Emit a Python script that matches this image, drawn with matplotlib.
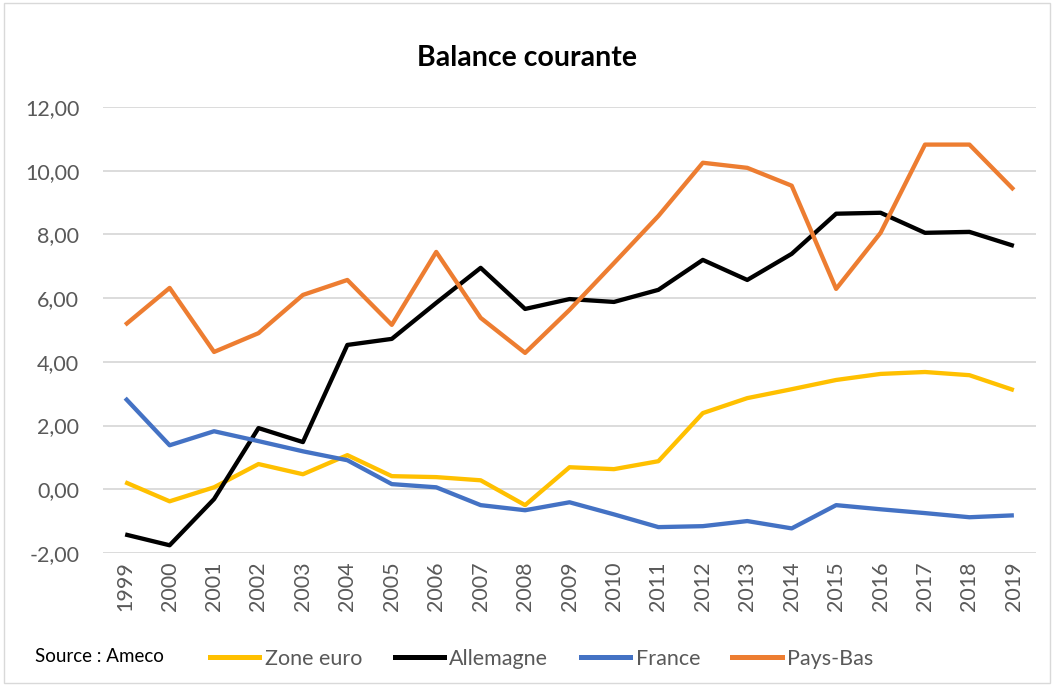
import matplotlib
matplotlib.use("Agg")
import matplotlib.pyplot as plt
from matplotlib.patches import Rectangle
from matplotlib.lines import Line2D
import numpy as np

years = [str(y) for y in range(1999, 2020)]
zone_euro = [0.22, -0.38, 0.06, 0.79, 0.47, 1.07, 0.41, 0.38, 0.28, -0.50, 0.69,
             0.63, 0.88, 2.39, 2.86, 3.14, 3.43, 3.62, 3.68, 3.58, 3.11]
allemagne = [-1.42, -1.76, -0.31, 1.92, 1.48, 4.53, 4.72, 5.85, 6.95, 5.66, 5.97,
             5.88, 6.26, 7.20, 6.57, 7.39, 8.65, 8.68, 8.05, 8.08, 7.64]
france = [2.86, 1.38, 1.82, 1.51, 1.19, 0.91, 0.16, 0.06, -0.50, -0.66, -0.41,
          -0.79, -1.19, -1.16, -1.00, -1.23, -0.50, -0.63, -0.75, -0.88, -0.82]
pays_bas = [5.16, 6.32, 4.31, 4.90, 6.10, 6.57, 5.16, 7.45, 5.38, 4.28, 5.63,
            7.10, 8.58, 10.25, 10.09, 9.53, 6.29, 8.05, 10.82, 10.82, 9.40]

series = [("Zone euro", zone_euro, "#FFC000"),
          ("Allemagne", allemagne, "#000000"),
          ("France", france, "#4472C4"),
          ("Pays-Bas", pays_bas, "#ED7D31")]

plt.rcParams['font.family'] = ['Lato', 'DejaVu Sans']
grey = "#595959"

fig = plt.figure(figsize=(10.54, 6.86), dpi=100)
fig.patches.append(Rectangle((0.004, 0.004), 0.992, 0.992, transform=fig.transFigure,
                             fill=False, edgecolor="#D9D9D9", linewidth=1))
ax = fig.add_axes([0.0977, 0.194, 0.8853, 0.650])

x = np.arange(len(years))
for name, vals, col in series:
    ax.plot(x, vals, color=col, linewidth=3.1, solid_capstyle="butt", label=name)

ax.set_xlim(-0.5, len(years) - 0.5)
ax.set_ylim(-2, 12)
ax.set_yticks(np.arange(-2, 13, 2))
ax.set_yticklabels([f"{v:.2f}".replace(".", ",") for v in np.arange(-2, 13, 2)],
                   fontsize=15.5, color=grey)
ax.set_xticks(x)
ax.set_xticklabels(years, rotation=90, fontsize=15.5, color=grey)
ax.tick_params(axis="y", length=0, pad=17)
ax.tick_params(axis="x", length=0, pad=6)
ax.grid(axis="y", color="#D9D9D9", linewidth=1.3)
ax.set_axisbelow(True)
for s in ax.spines.values():
    s.set_visible(False)

fig.text(0.5, 0.916, "Balance courante", ha="center", va="center",
         fontsize=20.5, fontweight="bold", color="black")

fig.text(0.033, 0.043, "Source : Ameco", ha="left", va="center", fontsize=13.5, color="black")
handles = [Line2D([0], [0], color=c, linewidth=3.6) for _, _, c in series]
fig.legend(handles, [n for n, _, _ in series], loc="center", bbox_to_anchor=(0.514, 0.040),
           ncol=4, frameon=False, fontsize=15.5, labelcolor=grey, handlelength=2.3,
           handletextpad=0.25, columnspacing=1.5)

fig.savefig("out.png", dpi=100)
